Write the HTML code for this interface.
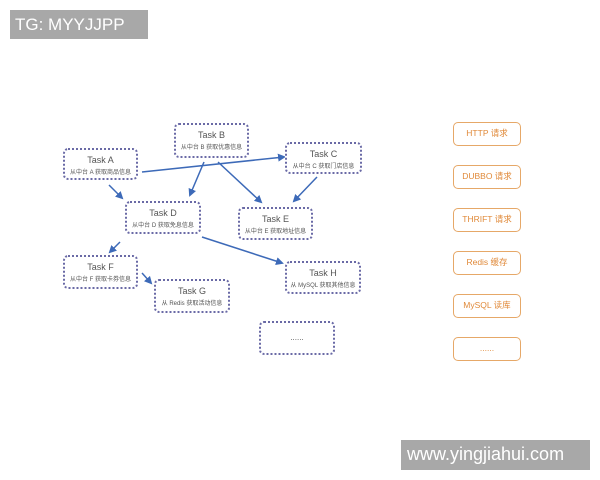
<!DOCTYPE html>
<html><head><meta charset="utf-8"><style>
body{margin:0;width:600px;height:480px;background:#fff;position:relative;overflow:hidden;font-family:"Liberation Sans","Noto Sans CJK SC",sans-serif}
.n{position:absolute;box-sizing:border-box;border:2px dotted #6a6aa6;border-radius:5px;text-align:center;color:#555;background:#fff}
.n b{display:block;font-weight:normal;font-size:9px;margin-top:5px}
.n i{display:block;font-style:normal;font-size:6px;margin-top:2px;color:#555}
.o{position:absolute;left:453px;width:68px;height:24px;box-sizing:border-box;border:1.5px solid #e6a868;border-radius:5px;color:#e08a3a;font-size:8.5px;line-height:21px;text-align:center}
.wm{position:absolute;background:#a8a8a8;color:#fff}
svg{position:absolute;left:0;top:0}
</style></head><body>
<div class="wm" style="left:10px;top:10px;width:138px;height:29px;font-size:17px;line-height:29px;padding-left:5px;box-sizing:border-box">TG: MYYJJPP</div>
<div class="wm" style="left:401px;top:440px;width:189px;height:30px;font-size:18px;line-height:29px;padding-left:6px;box-sizing:border-box">www.yingjiahui.com</div>
<svg width="600" height="480"><defs><marker id="a" markerWidth="8" markerHeight="8" refX="6" refY="4" orient="auto" markerUnits="userSpaceOnUse"><path d="M0,0L8,4L0,8z" fill="#3d6ab8"/></marker></defs>
<g stroke="#3d6ab8" stroke-width="1.5" marker-end="url(#a)">
<line x1="142" y1="172" x2="284" y2="157"/>
<line x1="204" y1="162" x2="190" y2="195"/>
<line x1="218" y1="162" x2="261" y2="202"/>
<line x1="317" y1="177" x2="294" y2="201"/>
<line x1="109" y1="185" x2="122" y2="198"/>
<line x1="202" y1="237" x2="282" y2="263"/>
<line x1="120" y1="242" x2="110" y2="252"/>
<line x1="142" y1="273" x2="151" y2="283"/>
</g></svg>
<div class="n" style="left:63px;top:148px;width:75px;height:32px"><b>Task A</b><i>从中台 A 获取商品信息</i></div>
<div class="n" style="left:174px;top:123px;width:75px;height:35px"><b>Task B</b><i>从中台 B 获取优惠信息</i></div>
<div class="n" style="left:285px;top:142px;width:77px;height:32px"><b>Task C</b><i>从中台 C 获取门店信息</i></div>
<div class="n" style="left:125px;top:201px;width:76px;height:33px"><b>Task D</b><i>从中台 D 获取免息信息</i></div>
<div class="n" style="left:238px;top:207px;width:75px;height:33px"><b>Task E</b><i>从中台 E 获取地址信息</i></div>
<div class="n" style="left:63px;top:255px;width:75px;height:34px"><b>Task F</b><i>从中台 F 获取卡券信息</i></div>
<div class="n" style="left:154px;top:279px;width:76px;height:34px"><b>Task G</b><i>从 Redis 获取活动信息</i></div>
<div class="n" style="left:285px;top:261px;width:76px;height:33px"><b>Task H</b><i>从 MySQL 获取其他信息</i></div>
<div class="n" style="left:259px;top:321px;width:76px;height:34px;line-height:30px;font-size:8px">......</div>
<div class="o" style="top:122px">HTTP 请求</div>
<div class="o" style="top:165px">DUBBO 请求</div>
<div class="o" style="top:208px">THRIFT 请求</div>
<div class="o" style="top:251px">Redis 缓存</div>
<div class="o" style="top:294px">MySQL 读库</div>
<div class="o" style="top:337px">......</div>
</body></html>
